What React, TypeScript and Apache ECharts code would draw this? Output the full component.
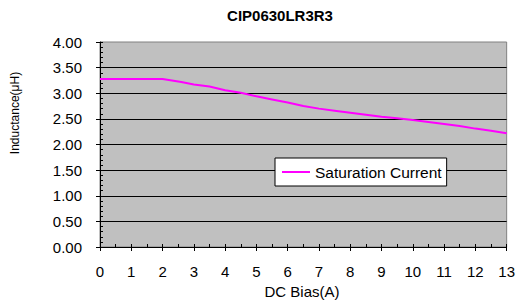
import React, { useEffect, useRef } from "react";
import * as echarts from "echarts";

const chartTitle = "CIP0630LR3R3";
const seriesName = "Saturation Current";
const xAxisName = "DC Bias(A)";
const yAxisName = "Inductance(μH)";

const dcBias = [0, 1, 2, 2.6, 3, 3.5, 4, 4.5, 5, 5.5, 6, 6.5, 7, 7.5, 8, 8.5, 9, 9.5, 10, 10.5, 11, 11.5, 12, 12.5, 13];
const inductance = [3.28, 3.28, 3.28, 3.22, 3.17, 3.13, 3.06, 3.01, 2.94, 2.88, 2.82, 2.75, 2.7, 2.66, 2.62, 2.58, 2.54, 2.51, 2.48, 2.44, 2.4, 2.36, 2.31, 2.27, 2.22];

const FONT = "'Liberation Sans', Arial, sans-serif";

export default function App() {
  const ref = useRef<HTMLDivElement>(null);
  useEffect(() => {
    if (!ref.current) return;
    const chart = echarts.init(ref.current, undefined, { renderer: "svg" });
    const data = dcBias.map((x, i) => [x, inductance[i]]);
    chart.setOption({
      animation: false,
      textStyle: { fontFamily: FONT },
      grid: {
        left: 100,
        top: 42,
        right: 11,
        bottom: 60,
        show: true,
        backgroundColor: "#c0c0c0",
        borderColor: "#808080",
        borderWidth: 1,
      },
      graphic: [
        {
          type: "text",
          x: 280,
          y: 15,
          style: {
            text: chartTitle,
            align: "center",
            verticalAlign: "middle",
            font: `bold 15px ${FONT}`,
            fill: "#000",
          },
        },
        {
          type: "text",
          x: 302,
          y: 291,
          style: {
            text: xAxisName,
            align: "center",
            verticalAlign: "middle",
            font: `15px ${FONT}`,
            fill: "#000",
          },
        },
        {
          type: "text",
          x: 15,
          y: 113,
          rotation: Math.PI / 2,
          style: {
            text: yAxisName,
            align: "center",
            verticalAlign: "middle",
            font: `12px ${FONT}`,
            fill: "#000",
          },
        },
      ],
      legend: {
        show: true,
        left: 275,
        top: 158,
        orient: "horizontal",
        backgroundColor: "#fff",
        borderColor: "#000",
        borderWidth: 1,
        borderRadius: 0,
        padding: [6, 5, 6, 6],
        itemWidth: 28,
        itemHeight: 14,
        itemGap: 6,
        itemStyle: { opacity: 0, color: "rgba(0,0,0,0)", borderWidth: 0 },
        lineStyle: { color: "#ff00ff", width: 2 },
        textStyle: { fontSize: 15.5, color: "#000", fontFamily: FONT },
        data: [seriesName],
      },
      xAxis: [
        {
          type: "value",
          min: 0,
          max: 13,
          interval: 1,
          position: "bottom",
          axisLine: { show: true, onZero: false, lineStyle: { color: "#000", width: 1 } },
          axisTick: { show: true, length: 4, lineStyle: { color: "#000" } },
          axisLabel: { fontSize: 15, color: "#000", margin: 17, fontFamily: FONT },
          splitLine: { show: false },
        },
        {
          type: "value",
          min: 0,
          max: 13,
          interval: 0.5,
          position: "bottom",
          axisLine: { show: false, onZero: false },
          axisTick: { show: true, inside: true, length: 3, lineStyle: { color: "#000" } },
          axisLabel: { show: false },
          splitLine: { show: false },
        },
      ],
      yAxis: [
        {
          type: "value",
          min: 0,
          max: 4,
          interval: 0.5,
          position: "left",
          axisLine: { show: true, onZero: false, lineStyle: { color: "#000", width: 1 } },
          axisTick: { show: true, length: 4, lineStyle: { color: "#000" } },
          axisLabel: {
            fontSize: 15,
            color: "#000",
            margin: 18,
            fontFamily: FONT,
            formatter: (v: number) => v.toFixed(2),
          },
          splitLine: { show: true, showMaxLine: false, lineStyle: { color: "#000", width: 1 } },
        },
        {
          type: "value",
          min: 0,
          max: 4,
          interval: 0.1,
          position: "left",
          offset: 0,
          axisLine: { show: false, onZero: false },
          axisTick: { show: true, inside: true, length: 3, lineStyle: { color: "#000" } },
          axisLabel: { show: false },
          splitLine: { show: false },
        },
      ],
      series: [
        {
          name: seriesName,
          type: "line",
          xAxisIndex: 0,
          yAxisIndex: 0,
          data,
          symbol: "none",
          lineStyle: { color: "#ff00ff", width: 2 },
          itemStyle: { color: "#ff00ff" },
        },
      ],
    });
    return () => chart.dispose();
  }, []);
  return (
    <div
      ref={ref}
      style={{ position: "fixed", left: 0, top: 0, width: 518, height: 307, background: "#fff" }}
    />
  );
}
